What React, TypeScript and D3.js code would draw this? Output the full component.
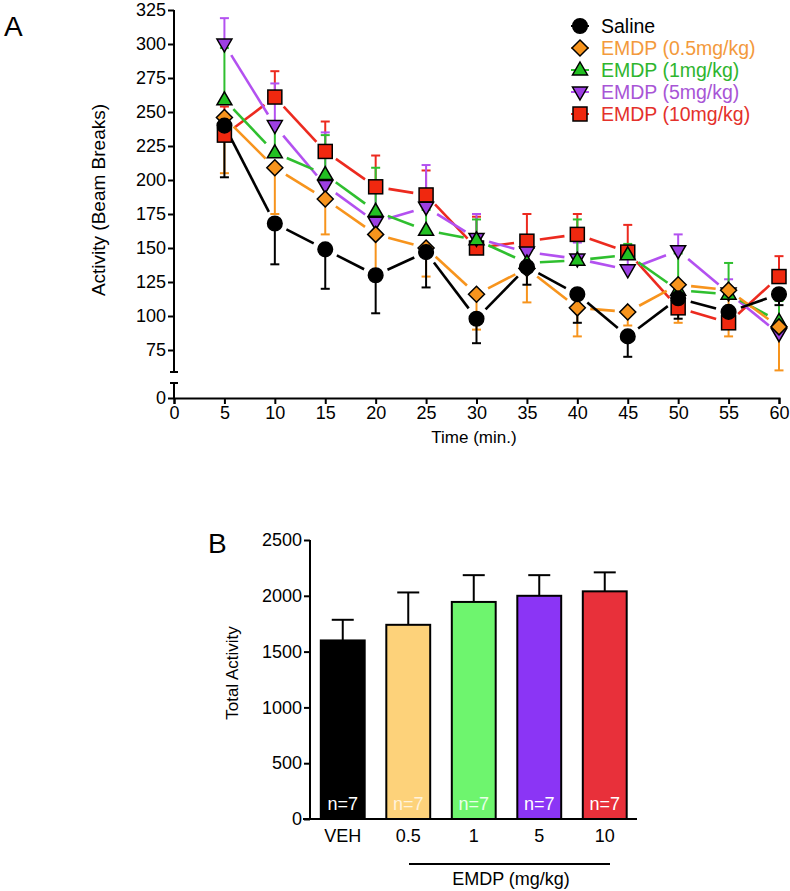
import React, { useEffect, useRef } from 'react';
import * as d3 from 'd3';

// ---- panel A data ----
const times = [5, 10, 15, 20, 25, 30, 35, 40, 45, 50, 55, 60];
const seriesNames = ['Saline', 'EMDP (0.5mg/kg)', 'EMDP (1mg/kg)', 'EMDP (5mg/kg)', 'EMDP (10mg/kg)'];
const saline = [240, 168, 149, 130, 147, 98, 136, 116, 85, 113, 103, 116];
const salineSem = [38, 30, 29, 28, 26, 18, 13, 21, 15, 15, 10, 8];
const emdp05 = [246, 209, 186, 160, 150, 116, 135, 106, 103, 123, 119, 92];
const emdp05Sem = [41, 34, 26, 28, 21, 26, 25, 21, 10, 28, 34, 32];
const emdp1 = [259, 220, 204, 177, 163, 156, 139, 141, 145, 119, 116, 96];
const emdp1Sem = [38, 20, 29, 32, 15, 15, 10, 30, 8, 27, 23, 15];
const emdp5 = [300, 240, 196, 169, 180, 157, 147, 142, 134, 148, 117, 87];
const emdp5Sem = [19, 31, 39, 25, 31, 18, 10, 12, 10, 12, 10, 8];
const emdp10 = [233, 261, 221, 195, 189, 150, 155, 160, 147, 106, 95, 129];
const emdp10Sem = [21, 19, 22, 23, 18, 23, 20, 15, 20, 8, 8, 15];
const yTicksA = [75, 100, 125, 150, 175, 200, 225, 250, 275, 300, 325];
const xTicksA = [0, 5, 10, 15, 20, 25, 30, 35, 40, 45, 50, 55, 60];

// ---- panel B data ----
const groups = ['VEH', '0.5', '1', '5', '10'];
const totals = [1600, 1740, 1945, 2000, 2040];
const totalsSem = [185, 290, 240, 185, 170];
const nLabels = ['n=7', 'n=7', 'n=7', 'n=7', 'n=7'];
const yTicksB = [0, 500, 1000, 1500, 2000, 2500];

const FONT = 'Arial, "Liberation Sans", sans-serif';

const App = () => {
  const svgRef = useRef(null);

  useEffect(() => {
    const svg = d3.select(svgRef.current);
    svg.selectAll('*').remove();

    // ================= panel A =================
    const x = d3.scaleLinear().domain([0, 60]).range([174, 779]);
    const y = d3.scaleLinear().domain([75, 325]).range([350, 10]);
    const yLow = d3.scaleLinear().domain([0, 10]).range([398, 383]);

    const gA = svg.append('g').attr('font-family', FONT);

    // y axis (broken)
    gA.append('line').attr('x1', 174).attr('x2', 174).attr('y1', y(325)).attr('y2', 372)
      .attr('stroke', '#000').attr('stroke-width', 2);
    gA.append('line').attr('x1', 170).attr('x2', 178).attr('y1', 372).attr('y2', 372)
      .attr('stroke', '#000').attr('stroke-width', 2);
    gA.append('line').attr('x1', 174).attr('x2', 174).attr('y1', 383).attr('y2', 398)
      .attr('stroke', '#000').attr('stroke-width', 2);
    gA.append('line').attr('x1', 170).attr('x2', 178).attr('y1', 383).attr('y2', 383)
      .attr('stroke', '#000').attr('stroke-width', 2);

    const yAxis = gA.append('g').attr('transform', 'translate(174,0)')
      .call(d3.axisLeft(y).tickValues(yTicksA).tickSize(6).tickPadding(2));
    yAxis.select('.domain').remove();
    const yAxisLow = gA.append('g').attr('transform', 'translate(174,0)')
      .call(d3.axisLeft(yLow).tickValues([0]).tickSize(6).tickPadding(2));
    yAxisLow.select('.domain').remove();

    const xAxis = gA.append('g').attr('transform', 'translate(0,398)')
      .call(d3.axisBottom(x).tickValues(xTicksA).tickSize(6).tickPadding(2));
    xAxis.select('.domain').attr('stroke-width', 2);

    [yAxis, yAxisLow, xAxis].forEach(a => {
      a.selectAll('line').attr('stroke', '#000').attr('stroke-width', 2);
      a.selectAll('text').attr('font-size', 18).attr('font-family', FONT).attr('fill', '#000');
    });

    gA.append('text').attr('x', 474).attr('y', 443).attr('text-anchor', 'middle')
      .attr('font-size', 17).text('Time (min.)');
    gA.append('text').attr('transform', 'translate(105,200) rotate(-90)')
      .attr('text-anchor', 'middle').attr('font-size', 19).text('Activity (Beam Breaks)');
    gA.append('text').attr('x', 4).attr('y', 36).attr('font-size', 28).text('A');

    const series = [
      { name: seriesNames[0], values: saline, sem: salineSem, dir: -1, line: '#000000', fill: '#000000', text: '#000000', shape: 'circle' },
      { name: seriesNames[1], values: emdp05, sem: emdp05Sem, dir: -1, line: '#f7941d', fill: '#f7941d', text: '#f39a3c', shape: 'diamond' },
      { name: seriesNames[2], values: emdp1, sem: emdp1Sem, dir: 1, line: '#2fbf2f', fill: '#22c022', text: '#2eb52e', shape: 'up' },
      { name: seriesNames[3], values: emdp5, sem: emdp5Sem, dir: 1, line: '#b351f0', fill: '#9d3fe3', text: '#a855d6', shape: 'down' },
      { name: seriesNames[4], values: emdp10, sem: emdp10Sem, dir: 1, line: '#ec2a1f', fill: '#f0280f', text: '#e4312b', shape: 'square' },
    ];

    const drawOrder = [4, 3, 2, 1, 0];
    const gap = 13;

    // connecting lines with gaps around markers
    drawOrder.forEach(i => {
      const s = series[i];
      const pts = times.map((t, k) => [x(t), y(s.values[k])]);
      for (let k = 0; k < pts.length - 1; k++) {
        const [x1, y1] = pts[k];
        const [x2, y2] = pts[k + 1];
        const len = Math.hypot(x2 - x1, y2 - y1);
        if (len <= 2 * gap) continue;
        const ux = (x2 - x1) / len;
        const uy = (y2 - y1) / len;
        gA.append('line')
          .attr('x1', x1 + ux * gap).attr('y1', y1 + uy * gap)
          .attr('x2', x2 - ux * gap).attr('y2', y2 - uy * gap)
          .attr('stroke', s.line).attr('stroke-width', 2.6);
      }
    });

    // error bars
    drawOrder.forEach(i => {
      const s = series[i];
      times.forEach((t, k) => {
        const cx = x(t);
        const end = y(s.values[k] + s.dir * s.sem[k]);
        gA.append('line').attr('x1', cx).attr('x2', cx)
          .attr('y1', y(s.values[k])).attr('y2', end)
          .attr('stroke', s.line).attr('stroke-width', 2);
        gA.append('line').attr('x1', cx - 4.5).attr('x2', cx + 4.5)
          .attr('y1', end).attr('y2', end)
          .attr('stroke', s.line).attr('stroke-width', 2);
      });
    });

    const marker = (g, shape, cx, cy, fill, scale = 1) => {
      let el;
      if (shape === 'circle') {
        el = g.append('circle').attr('cx', cx).attr('cy', cy).attr('r', 7.3 * scale);
      } else if (shape === 'square') {
        const h = 7 * scale;
        el = g.append('rect').attr('x', cx - h).attr('y', cy - h).attr('width', 2 * h).attr('height', 2 * h);
      } else if (shape === 'diamond') {
        const h = 8 * scale;
        el = g.append('path').attr('d', `M${cx},${cy - h}L${cx + h},${cy}L${cx},${cy + h}L${cx - h},${cy}Z`);
      } else if (shape === 'up') {
        const w = 7.5 * scale;
        el = g.append('path').attr('d', `M${cx},${cy - 8 * scale}L${cx + w},${cy + 5 * scale}L${cx - w},${cy + 5 * scale}Z`);
      } else {
        const w = 7.5 * scale;
        el = g.append('path').attr('d', `M${cx},${cy + 8 * scale}L${cx + w},${cy - 5 * scale}L${cx - w},${cy - 5 * scale}Z`);
      }
      el.attr('fill', fill).attr('stroke', '#000').attr('stroke-width', 1.5);
    };

    drawOrder.forEach(i => {
      const s = series[i];
      times.forEach((t, k) => marker(gA, s.shape, x(t), y(s.values[k]), s.fill));
    });

    // legend
    series.forEach((s, i) => {
      const ly = 26 + i * 22;
      gA.append('line').attr('x1', 571).attr('x2', 589).attr('y1', ly).attr('y2', ly)
        .attr('stroke', s.line).attr('stroke-width', 2);
      marker(gA, s.shape, 580, ly, s.fill);
      gA.append('text').attr('x', 601).attr('y', ly).attr('dy', '0.35em')
        .attr('font-size', 19.5).attr('fill', s.text).text(s.name);
    });

    // ================= panel B =================
    const xb = d3.scaleBand().domain(groups).range([310, 637.5]).paddingInner(0.33).paddingOuter(0.165);
    const yb = d3.scaleLinear().domain([0, 2500]).range([819, 540]);
    const barFill = ['#000000', '#fdd27a', '#6ef56e', '#8b35f5', '#e8303a'];
    const nFill = ['#ffffff', '#fff3dc', '#e9ffe9', '#ffffff', '#ffffff'];

    const gB = svg.append('g').attr('font-family', FONT);

    groups.forEach((grp, i) => {
      const cx = xb(grp) + xb.bandwidth() / 2;
      const top = yb(totals[i]);
      const errTop = yb(totals[i] + totalsSem[i]);
      gB.append('line').attr('x1', cx).attr('x2', cx).attr('y1', top).attr('y2', errTop)
        .attr('stroke', '#000').attr('stroke-width', 2);
      gB.append('line').attr('x1', cx - 11).attr('x2', cx + 11).attr('y1', errTop).attr('y2', errTop)
        .attr('stroke', '#000').attr('stroke-width', 2);
      gB.append('rect').attr('x', xb(grp)).attr('y', top)
        .attr('width', xb.bandwidth()).attr('height', yb(0) - top)
        .attr('fill', barFill[i]).attr('stroke', '#000').attr('stroke-width', 2);
      gB.append('text').attr('x', cx).attr('y', 810).attr('text-anchor', 'middle')
        .attr('font-size', 18).attr('fill', nFill[i]).text(nLabels[i]);
    });

    const yAxisB = gB.append('g').attr('transform', 'translate(310,0)')
      .call(d3.axisLeft(yb).tickValues(yTicksB).tickFormat(d3.format('d')).tickSize(6).tickPadding(2));
    yAxisB.select('.domain').remove();
    yAxisB.selectAll('line').attr('stroke', '#000').attr('stroke-width', 2);
    yAxisB.selectAll('text').attr('font-size', 18).attr('font-family', FONT).attr('fill', '#000');
    gB.append('line').attr('x1', 310).attr('x2', 310).attr('y1', yb(2500)).attr('y2', yb(0))
      .attr('stroke', '#000').attr('stroke-width', 2);
    gB.append('line').attr('x1', 303).attr('x2', 637).attr('y1', yb(0)).attr('y2', yb(0))
      .attr('stroke', '#000').attr('stroke-width', 2);

    groups.forEach(grp => {
      gB.append('text').attr('x', xb(grp) + xb.bandwidth() / 2).attr('y', 842)
        .attr('text-anchor', 'middle').attr('font-size', 18).text(grp);
    });

    gB.append('line').attr('x1', 409).attr('x2', 610).attr('y1', 864).attr('y2', 864)
      .attr('stroke', '#000').attr('stroke-width', 2);
    gB.append('text').attr('x', 511).attr('y', 885).attr('text-anchor', 'middle')
      .attr('font-size', 18).text('EMDP (mg/kg)');
    gB.append('text').attr('transform', 'translate(238,673) rotate(-90)')
      .attr('text-anchor', 'middle').attr('font-size', 17).text('Total Activity');
    gB.append('text').attr('x', 208).attr('y', 553).attr('font-size', 28).text('B');
  }, []);

  return (
    <div style={{ position: 'absolute', left: 0, top: 0 }}>
      <svg ref={svgRef} width={790} height={891} style={{ display: 'block', background: '#fff' }}></svg>
    </div>
  );
};

export default App;
